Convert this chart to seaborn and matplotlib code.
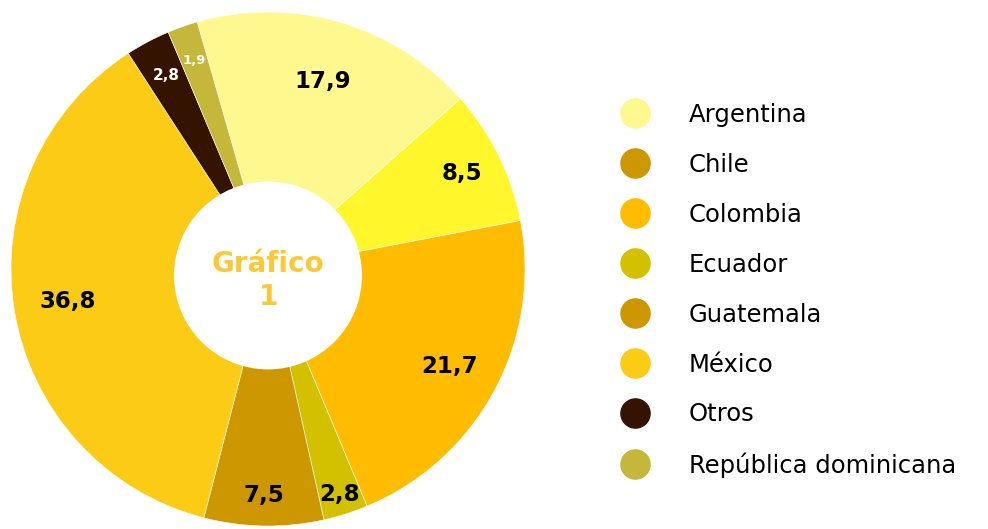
import matplotlib
matplotlib.use("Agg")
import matplotlib.pyplot as plt
from matplotlib.lines import Line2D
from matplotlib.patches import Circle
import numpy as np
import seaborn as sns

# ── Data ───────────────────────────────────────────────────────────────────
countries = ["Argentina", "Chile", "Colombia", "Ecuador", "Guatemala",
             "México", "Otros", "República dominicana"]
shares = [17.9, 8.5, 21.7, 2.8, 7.5, 36.8, 2.8, 1.9]
share_labels = ["17,9", "8,5", "21,7", "2,8", "7,5", "36,8", "2,8", "1,9"]

# slice colours (the 8,5 slice is drawn bright yellow in the original)
slice_colors = ["#FFF88F", "#FFF72B", "#FFBC00", "#D3C100", "#CC9700",
                "#FCCB16", "#341400", "#C4B73A"]
legend_colors = ["#FFF88F", "#CC9700", "#FFBC00", "#D3C100", "#CC9700",
                 "#FCCB16", "#341400", "#C4B73A"]
label_colors = ["black"] * 6 + ["white", "white"]
label_sizes = [16.5] * 6 + [11, 9.5]
label_radius = [0.76, 0.84, 0.80, 0.92, 0.88, 0.79, 0.85, 0.86]

sns.set_theme(style="white")
plt.rcParams["font.family"] = ["DejaVu Sans"]

fig = plt.figure(figsize=(9.88, 5.29), dpi=100)
ax = fig.add_axes([11 / 988, (529 - 269 - 257) / 529, 514 / 988, 514 / 529])

wedges, _ = ax.pie(
    shares, colors=slice_colors, startangle=106, counterclock=False,
    radius=1.0, wedgeprops=dict(edgecolor="white", linewidth=0.4),
)

# value labels, placed along each wedge's mid angle
for w, txt, c, fs, r in zip(wedges, share_labels, label_colors,
                            label_sizes, label_radius):
    ang = np.deg2rad((w.theta1 + w.theta2) / 2)
    ax.text(r * np.cos(ang), r * np.sin(ang), txt, ha="center", va="center",
            color=c, fontsize=fs, fontweight="bold")

# donut hole (slightly below the pie centre, as in the original)
ax.add_patch(Circle((0, -0.025), 0.363, color="white", zorder=5))
ax.text(0, 0.02, "Gráfico", ha="center", va="center", fontsize=20,
        fontweight="bold", color="#FCC934", zorder=6)
ax.text(0, -0.11, "1", ha="center", va="center", fontsize=20,
        fontweight="bold", color="#FCC934", zorder=6)

ax.set_xlim(-1, 1)
ax.set_ylim(-1, 1)
ax.set_aspect("auto")
ax.axis("off")

# ── Legend ─────────────────────────────────────────────────────────────────
handles = [Line2D([], [], marker="o", linestyle="", markersize=21,
                  markerfacecolor=c, markeredgecolor=c) for c in legend_colors]
fig.legend(handles, countries, loc="upper left",
           bbox_to_anchor=(617 / 988, 1 - 103 / 529), frameon=False,
           fontsize=17.5, labelcolor="black", handlelength=1.46,
           handletextpad=1.49, labelspacing=1.066, borderaxespad=0,
           borderpad=0)

fig.savefig("out.png", dpi=100, facecolor="white")
